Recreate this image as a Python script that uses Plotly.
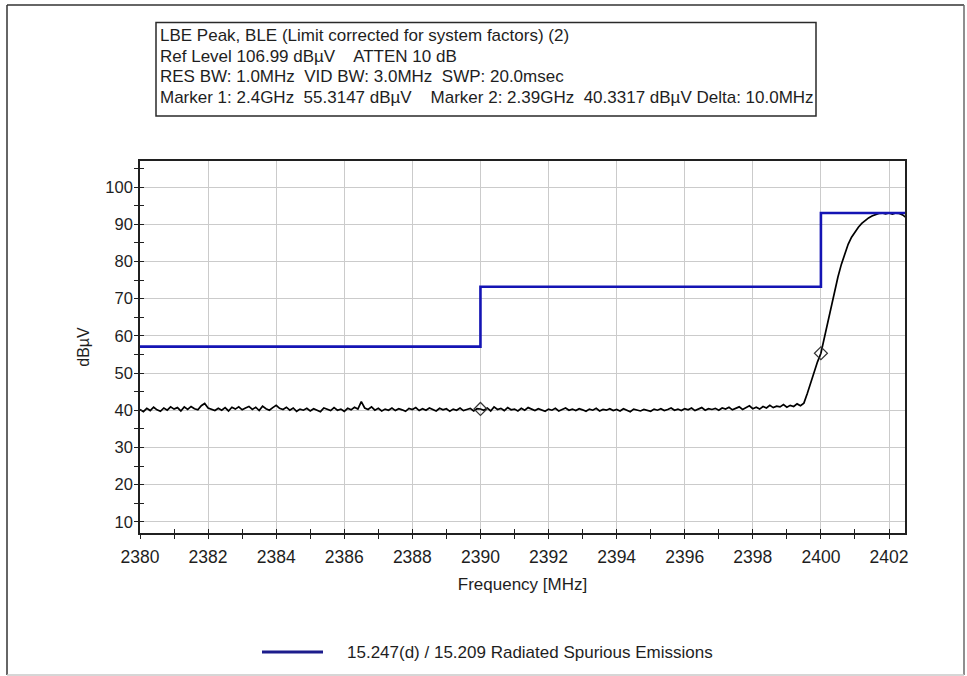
import numpy as np
import plotly.graph_objects as go

# ---- sweep data -------------------------------------------------------------
# spectrum analyser sweep, 0.1 MHz steps from 2380.0 to 2402.5 MHz
freq_mhz = np.linspace(2380.0, 2402.5, 226)

trace_dbuv = [
    # 2380
    40.2, 39.6, 40.5, 39.9, 40.8, 40.1, 39.7, 40.6, 40.0, 40.9,
    # 2381
    40.3, 40.7, 39.8, 40.9, 40.2, 41.0, 40.4, 40.1, 41.2, 41.8,
    # 2382
    40.6, 40.2, 39.9, 40.5, 40.0, 40.7, 39.8, 40.8, 40.3, 40.9,
    # 2383
    40.1, 40.6, 41.0, 40.2, 40.8, 39.9, 41.1, 40.4, 40.0, 40.7,
    # 2384
    41.3, 40.5, 40.2, 40.8, 40.0, 40.6, 39.7, 40.3, 40.0, 40.5,
    # 2385
    39.8, 40.4, 40.1, 39.6, 40.6, 40.2, 39.9, 40.7, 40.0, 40.3,
    # 2386
    39.7, 40.5, 40.1, 40.8, 40.3, 42.3, 40.6, 40.2, 40.9, 40.0,
    # 2387
    40.5, 39.8, 40.3, 40.0, 40.6, 39.9, 40.4, 40.1, 39.7, 40.5,
    # 2388
    40.2, 40.7, 39.9, 40.4, 40.0, 40.6, 40.2, 39.8, 40.5, 40.1,
    # 2389
    40.4, 39.7, 40.3, 40.0, 40.6, 39.9, 40.2, 40.5, 39.8, 40.4,
    # 2390
    40.33, 40.0, 40.6, 39.8, 40.9, 40.2, 40.5, 39.9, 40.7, 40.1,
    # 2391
    40.3, 39.8, 40.5, 40.0, 40.7, 40.2, 39.9, 40.4, 40.1, 39.7,
    # 2392
    40.3, 40.0, 40.5, 39.8, 40.2, 40.6, 40.0, 40.3, 39.9, 40.4,
    # 2393
    40.1, 39.7, 40.3, 40.0, 40.5, 39.8, 40.2, 40.0, 40.4, 39.9,
    # 2394
    40.2, 39.8, 40.4, 40.0, 39.6, 40.3, 40.1, 39.8, 40.2, 40.0,
    # 2395
    39.7, 40.3, 40.0, 40.4, 39.9, 40.2, 40.6, 40.0, 40.3, 39.9,
    # 2396
    40.4, 40.1, 40.6, 39.9, 40.3, 40.7, 40.0, 40.4, 40.2, 40.5,
    # 2397
    40.0, 40.6, 40.3, 40.8, 40.1, 40.5, 40.9, 40.2, 40.6, 41.2,
    # 2398
    40.4, 40.8, 40.3, 41.0, 40.6, 41.3, 40.7, 41.1, 40.9, 41.5,
    # 2399
    40.8, 41.3, 41.0, 41.7, 41.2, 41.9, 44.5, 47.5, 50.4, 53.0,
    # 2400
    55.3147, 59.6, 63.8, 68.0, 72.0, 75.8, 79.2, 82.2, 84.6, 86.5,
    # 2401
    88.0, 89.2, 90.2, 91.0, 91.7, 92.2, 92.6, 92.9, 93.0, 92.8,
    # 2402
    93.0, 92.7, 93.0, 92.9, 92.5, 91.8,
]

# markers
marker_freq = [2400.0, 2390.0]
marker_level = [55.3147, 40.3317]

# FCC 15.247(d) / 15.209 limit (stepped)
limit_freq = [2380.0, 2390.0, 2400.0, 2402.5]
limit_level = [57.1, 73.2, 93.0, 93.0]
limit_name = "15.247(d) / 15.209 Radiated Spurious Emissions"

header_lines = [
    "LBE Peak, BLE (Limit corrected for system factors) (2)",
    "Ref Level 106.99 dBµV    ATTEN 10 dB",
    "RES BW: 1.0MHz  VID BW: 3.0MHz  SWP: 20.0msec",
    "Marker 1: 2.4GHz  55.3147 dBµV    Marker 2: 2.39GHz  40.3317 dBµV Delta: 10.0MHz",
]

x_ticks = list(range(2380, 2403, 2))
y_ticks = list(range(10, 101, 10))

# ---- layout geometry --------------------------------------------------------
W, H = 967, 676
L, R, T, B = 140, 905, 161, 533  # plot area in pixels
FONT = "Liberation Sans, Arial, sans-serif"
TXT = "#1e1e1e"
AX = "#202020"


def px(x):
    return (x - L) / (R - L)


def py(y):
    return (B - y) / (B - T)


fig = go.Figure()

fig.add_trace(go.Scatter(
    x=freq_mhz, y=trace_dbuv, mode="lines",
    line=dict(color="#000000", width=1.7),
    showlegend=False, hoverinfo="x+y",
))
fig.add_trace(go.Scatter(
    x=limit_freq, y=limit_level, mode="lines", line_shape="hv",
    line=dict(color="#1414b4", width=2.6),
    name=limit_name, showlegend=False,
))
fig.add_trace(go.Scatter(
    x=marker_freq, y=marker_level, mode="markers",
    marker=dict(symbol="diamond-open", size=10, color="#333333",
                line=dict(width=1.2, color="#333333")),
    showlegend=False,
))
# companion axes used only to draw the inward half of the crossing tick marks
fig.add_trace(go.Scatter(x=[None], y=[None], xaxis="x2", yaxis="y2",
                         showlegend=False, hoverinfo="skip"))

xr = [2380.0, 2402.47]
yr = [6.99, 106.99]

axis_common = dict(
    showline=True, linecolor=AX, linewidth=1.6, mirror=True,
    ticks="outside", ticklen=4, tickwidth=1.4, tickcolor=AX,
    showgrid=True, gridcolor="#cbcbcb", gridwidth=1,
    zeroline=False,
)

fig.update_layout(
    width=W, height=H,
    margin=dict(l=L, r=W - R, t=T, b=H - B),
    paper_bgcolor="white", plot_bgcolor="white",
    font=dict(family=FONT, color=TXT),
    xaxis=dict(
        range=xr, tickvals=x_ticks, **axis_common,
        tickfont=dict(family=FONT, size=17.5, color=TXT),
        minor=dict(dtick=1, tick0=2380, ticks="outside", ticklen=4,
                   tickwidth=1.4, tickcolor=AX, showgrid=False),
        title=dict(text="Frequency [MHz]", standoff=12,
                   font=dict(family=FONT, size=17, color=TXT)),
        ticklabelstandoff=3,
    ),
    yaxis=dict(
        range=yr, tickvals=y_ticks, **axis_common,
        tickfont=dict(family=FONT, size=16.5, color=TXT),
        minor=dict(dtick=5, tick0=5, ticks="outside", ticklen=4,
                   tickwidth=1.4, tickcolor=AX, showgrid=False),
        title=dict(text="dBµV", standoff=12,
                   font=dict(family=FONT, size=16, color=TXT)),
        ticklabelstandoff=-2,
    ),
    xaxis2=dict(range=xr, overlaying="x", tickvals=x_ticks, showgrid=False,
                showticklabels=False, ticks="inside", ticklen=4, tickwidth=1.4,
                tickcolor=AX, zeroline=False, side="bottom",
                minor=dict(dtick=1, tick0=2380, ticks="inside", ticklen=4,
                           tickwidth=1.4, tickcolor=AX)),
    yaxis2=dict(range=yr, overlaying="y", tickvals=y_ticks, showgrid=False,
                showticklabels=False, ticks="inside", ticklen=4, tickwidth=1.4,
                tickcolor=AX, zeroline=False, side="left",
                minor=dict(dtick=5, tick0=5, ticks="inside", ticklen=4,
                           tickwidth=1.4, tickcolor=AX)),
    showlegend=False,
)

shapes = []
# outer frame: dark top/left edge, lighter right and bottom edges
frame_edges = [
    (7, 5, 964, 5, "#333333"),
    (7, 5, 7, 675, "#333333"),
    (964, 5, 964, 675, "#6a6a6a"),
    (7, 675, 964, 675, "#c8c8c8"),
]
for x0, y0, x1, y1, c in frame_edges:
    shapes.append(dict(type="line", xref="paper", yref="paper",
                       x0=px(x0), x1=px(x1), y0=py(y0), y1=py(y1),
                       line=dict(color=c, width=1.5)))
# header box
shapes.append(dict(type="rect", xref="paper", yref="paper",
                   x0=px(156), x1=px(816), y0=py(116), y1=py(22.5),
                   line=dict(color="#2a2a2a", width=1.5)))
# legend swatch
shapes.append(dict(type="line", xref="paper", yref="paper",
                   x0=px(262), x1=px(323), y0=py(652), y1=py(652),
                   line=dict(color="#1c1c8c", width=3)))
fig.update_layout(shapes=shapes)

annotations = []
for i, line in enumerate(header_lines):
    annotations.append(dict(
        xref="paper", yref="paper", x=px(158), y=py(35.5 + i * 20.7),
        xanchor="left", yanchor="middle", text=line, showarrow=False,
        font=dict(family=FONT, size=17, color=TXT),
    ))
annotations.append(dict(
    xref="paper", yref="paper", x=px(345), y=py(652),
    xanchor="left", yanchor="middle", text=limit_name, showarrow=False,
    font=dict(family=FONT, size=17, color=TXT),
))
fig.update_layout(annotations=annotations)

fig.write_html("out.html")
